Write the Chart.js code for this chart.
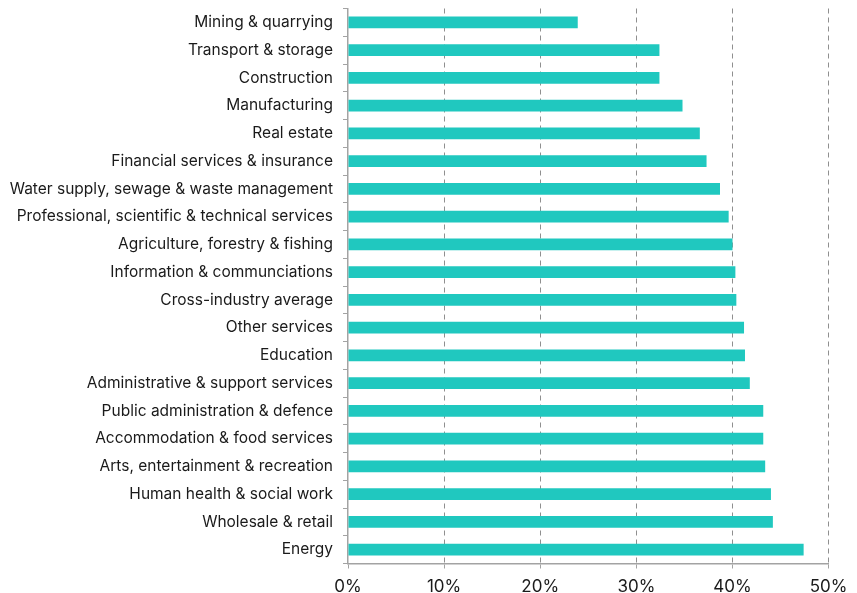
<!DOCTYPE html>
<html>
<head>
<meta charset="utf-8">
<script src="https://cdn.jsdelivr.net/npm/chart.js@4/dist/chart.umd.min.js"></script>
<style>
  html, body { margin: 0; padding: 0; background: #fff; }
  #wrap { width: 857px; height: 593px; }
</style>
</head>
<body>
<div id="wrap"><canvas id="sectorChart" width="857" height="593"></canvas></div>
<script>
// sectors, top to bottom
const sectors = [
  'Mining & quarrying',
  'Transport & storage',
  'Construction',
  'Manufacturing',
  'Real estate',
  'Financial services & insurance',
  'Water supply, sewage & waste management',
  'Professional, scientific & technical services',
  'Agriculture, forestry & fishing',
  'Information & communciations',
  'Cross-industry average',
  'Other services',
  'Education',
  'Administrative & support services',
  'Public administration & defence',
  'Accommodation & food services',
  'Arts, entertainment & recreation',
  'Human health & social work',
  'Wholesale & retail',
  'Energy'
];

// share per sector, in percent
const shares = [
  23.9, 32.4, 32.4, 34.8, 36.6, 37.3, 38.7, 39.6, 40.0, 40.3,
  40.4, 41.2, 41.3, 41.8, 43.2, 43.2, 43.4, 44.0, 44.2, 47.4
];

// x axis ticks
const xTicks = [0, 10, 20, 30, 40, 50];

const barColor = '#20C8BF';
const axisColor = '#a3a3a3';
const gridColor = '#8f8f8f';
const textColor = '#1a1a1a';
const fontFamily = 'Inter, "Noto Sans", sans-serif';

const ctx = document.getElementById('sectorChart').getContext('2d');
new Chart(ctx, {
  type: 'bar',
  data: {
    labels: sectors,
    datasets: [{
      data: shares,
      backgroundColor: barColor,
      borderWidth: 0,
      barPercentage: 0.43,
      categoryPercentage: 1.0
    }]
  },
  options: {
    indexAxis: 'y',
    responsive: false,
    animation: false,
    layout: { padding: { top: 8.5, right: 25, bottom: 0, left: 0 } },
    plugins: {
      legend: { display: false },
      tooltip: { enabled: false }
    },
    scales: {
      x: {
        min: 0,
        max: 50,
        afterBuildTicks: scale => {
          scale.ticks = xTicks.map(v => ({ value: v }));
        },
        // fixed axis band height under the plot
        afterFit: scale => {
          scale.height = 29.5;
          scale.paddingLeft = 0;
        },
        ticks: {
          color: textColor,
          font: { family: fontFamily, size: 17, lineHeight: 1 },
          padding: 9.5,
          callback: v => v + '%'
        },
        grid: {
          color: c => c.tick && c.tick.value === 0 ? 'rgba(0,0,0,0)' : gridColor,
          tickColor: axisColor,
          tickBorderDash: [],
          tickLength: 5,
          drawTicks: true
        },
        border: { display: true, color: axisColor, width: 1.5, dash: [5, 4] }
      },
      y: {
        afterFit: scale => {
          scale.width = 348;
          scale.paddingTop = 0;
          scale.paddingBottom = 0;
        },
        ticks: {
          color: textColor,
          font: { family: fontFamily, size: 15.5 },
          padding: 10,
          autoSkip: false
        },
        grid: {
          offset: true,
          drawOnChartArea: false,
          drawTicks: true,
          tickLength: 5,
          tickColor: axisColor
        },
        border: { display: true, color: axisColor, width: 1.5 }
      }
    }
  }
});
</script>
</body>
</html>
